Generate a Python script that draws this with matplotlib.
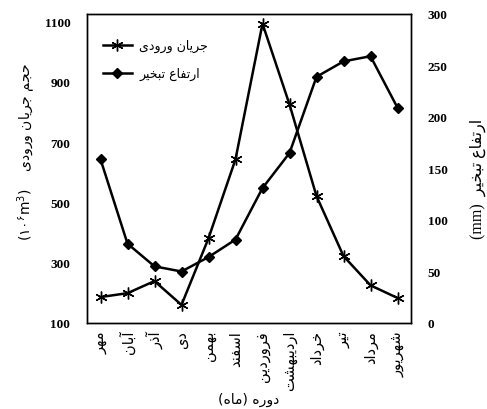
import matplotlib
matplotlib.use("Agg")
import matplotlib.pyplot as plt
import numpy as np

# ---------------- data ----------------
months = ["مهر", "آبان", "آذر", "دی", "بهمن", "اسفند", "فروردین",
          "اردیبهشت", "خرداد", "تیر", "مرداد", "شهریور"]
inflow = [186, 199, 239, 160, 381, 643, 1093, 825, 521, 322, 225, 183]
evaporation = [159, 77, 55, 50, 64, 81, 131, 165, 239, 254, 259, 209]
inflow_name = "جریان ورودی"
evap_name = "ارتفاع تبخیر"
left_label_fa = "حجم جریان ورودی"
right_label_fa = "ارتفاع تبخیر"
xlabel_word = "دوره"
xlabel_paren = "ماه"
left_ticks = [100, 300, 500, 700, 900, 1100]
right_ticks = [0, 50, 100, 150, 200, 250, 300]

# ---------------- simple Persian shaping ----------------
FORMS = {
    'ا': (0xFE8D, 0xFE8E, None, None),
    'آ': (0xFE81, 0xFE82, None, None),
    'ب': (0xFE8F, 0xFE90, 0xFE91, 0xFE92),
    'ت': (0xFE95, 0xFE96, 0xFE97, 0xFE98),
    'ج': (0xFE9D, 0xFE9E, 0xFE9F, 0xFEA0),
    'ح': (0xFEA1, 0xFEA2, 0xFEA3, 0xFEA4),
    'خ': (0xFEA5, 0xFEA6, 0xFEA7, 0xFEA8),
    'د': (0xFEA9, 0xFEAA, None, None),
    'ذ': (0xFEAB, 0xFEAC, None, None),
    'ر': (0xFEAD, 0xFEAE, None, None),
    'س': (0xFEB1, 0xFEB2, 0xFEB3, 0xFEB4),
    'ش': (0xFEB5, 0xFEB6, 0xFEB7, 0xFEB8),
    'ع': (0xFEC9, 0xFECA, 0xFECB, 0xFECC),
    'ف': (0xFED1, 0xFED2, 0xFED3, 0xFED4),
    'ق': (0xFED5, 0xFED6, 0xFED7, 0xFED8),
    'م': (0xFEE1, 0xFEE2, 0xFEE3, 0xFEE4),
    'ن': (0xFEE5, 0xFEE6, 0xFEE7, 0xFEE8),
    'ه': (0xFEE9, 0xFEEA, 0xFEEB, 0xFEEC),
    'و': (0xFEED, 0xFEEE, None, None),
    'ی': (0xFBFC, 0xFBFD, 0xFBFE, 0xFBFF),
}


def fa(s):
    out = []
    n = len(s)
    for i, c in enumerate(s):
        if c not in FORMS:
            out.append(c)
            continue
        prev = s[i - 1] if i > 0 else None
        nxt = s[i + 1] if i < n - 1 else None
        dual = FORMS[c][2] is not None
        jp = prev is not None and prev in FORMS and FORMS[prev][2] is not None
        jn = dual and nxt is not None and nxt in FORMS
        iso, fin, ini, med = FORMS[c]
        if jp and jn:
            g = med
        elif jp:
            g = fin
        elif jn:
            g = ini
        else:
            g = iso
        out.append(chr(g))
    return ''.join(out)[::-1]


FA_FONT = ['DejaVu Sans']
plt.rcParams['mathtext.fontset'] = 'dejavusans'

fig = plt.figure(figsize=(4.87, 4.10), dpi=100)
ax = fig.add_axes([87 / 487, 1 - 324 / 410, 324 / 487, 309 / 410])
ax2 = ax.twinx()

x = np.arange(len(months))
l1, = ax.plot(x, inflow, color='black', lw=1.8, marker=(6, 2, 0), ms=8.5,
              mew=1.0, label=fa(inflow_name))
l2, = ax2.plot(x, evaporation, color='black', lw=1.8, marker='D', ms=5,
               label=fa(evap_name))

ax.set_xlim(-0.5, len(months) - 0.5)
ax.set_ylim(100, 1125)
ax2.set_ylim(0, 300)
ax.set_yticks(left_ticks)
ax2.set_yticks(right_ticks)
ax.set_xticks(x)
ax.set_xticklabels([fa(m) for m in months], rotation=90, family=FA_FONT,
                   fontsize=10.5)

for a in (ax, ax2):
    a.tick_params(axis='y', length=0, pad=12)
    for sp in a.spines.values():
        sp.set_linewidth(1.0)
ax.tick_params(axis='x', length=0, pad=5)
for lab in ax.get_yticklabels() + ax2.get_yticklabels():
    lab.set_fontfamily('Liberation Serif')
    lab.set_fontweight('bold')
    lab.set_fontsize(9.5)

ax.set_xlabel("(" + fa(xlabel_paren) + ") " + fa(xlabel_word),
              family=FA_FONT, fontsize=10, labelpad=1)
ax.set_ylabel(r"$(۱۰^{۶}\mathrm{m}^{3})$    " + fa(left_label_fa),
              family=FA_FONT, fontsize=10, labelpad=12)
ax.yaxis.set_label_coords(-0.15, 0.555)
ax2.set_ylabel("(mm)  " + fa(right_label_fa),
               family=['Liberation Serif', 'DejaVu Sans'],
               fontsize=11.5, rotation=90, labelpad=14)
ax2.yaxis.set_label_coords(1.18, 0.47)

leg = ax.legend(handles=[l1, l2], loc='upper left', frameon=False,
                prop={'family': 'DejaVu Sans', 'size': 9},
                bbox_to_anchor=(0.015, 0.955), handlelength=2.3,
                handletextpad=0.6, labelspacing=1.2)

fig.savefig("out.png", dpi=100)
